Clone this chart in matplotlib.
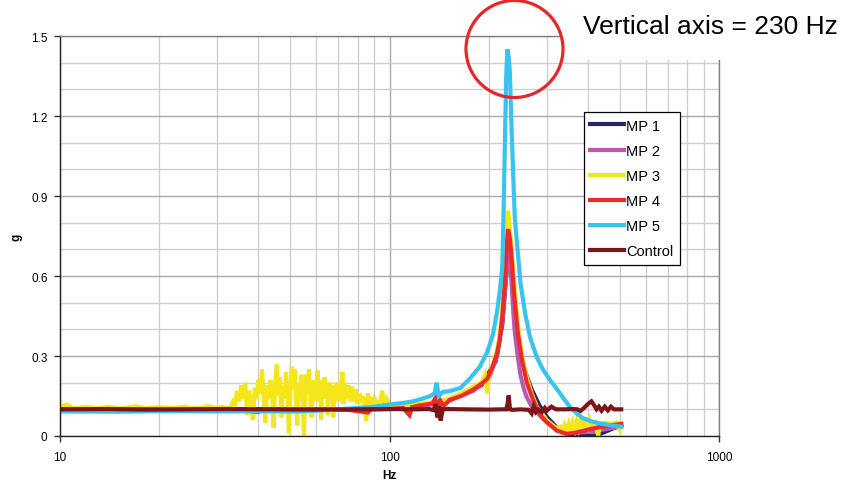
import matplotlib
matplotlib.use('Agg')
import matplotlib.pyplot as plt
from matplotlib.patches import Rectangle, Ellipse
from matplotlib.ticker import FixedLocator, NullFormatter

plt.rcParams['font.family'] = ['Liberation Sans', 'DejaVu Sans']

# values: (Hz, g)
mp1 = [(10, 0.100), (40, 0.100), (100, 0.101), (150, 0.130), (190, 0.190), (210, 0.280),
       (220, 0.420), (226, 0.600), (230, 0.700), (233, 0.660), (237, 0.550), (242, 0.420),
       (250, 0.300), (260, 0.230), (270, 0.175), (285, 0.115), (300, 0.072), (320, 0.035),
       (340, 0.012), (360, 0.003), (390, 0.000), (420, 0.002), (440, 0.010), (460, 0.020),
       (480, 0.030), (505, 0.040)]

mp2 = [(10, 0.100), (50, 0.100), (100, 0.102), (130, 0.115), (152, 0.135), (180, 0.170),
       (200, 0.215), (212, 0.300), (220, 0.430), (226, 0.600), (230, 0.700), (232, 0.680),
       (235, 0.560), (238, 0.450), (240, 0.390), (245, 0.300), (250, 0.225), (256, 0.175),
       (261, 0.145), (270, 0.112), (280, 0.088), (300, 0.052), (330, 0.022), (360, 0.012),
       (400, 0.015), (450, 0.025), (505, 0.035)]

mp3 = [(10, 0.112), (10.5, 0.118), (11, 0.104), (12, 0.108), (13, 0.104), (14, 0.110),
       (15, 0.104), (16, 0.106), (17, 0.112), (18, 0.104), (20, 0.108), (22, 0.105),
       (24, 0.110), (25, 0.104), (27, 0.106), (28, 0.112), (30, 0.105), (31, 0.110),
       (32, 0.104), (33, 0.110), (33.5, 0.130), (34, 0.120), (34.5, 0.170), (35, 0.130),
       (35.5, 0.190), (36, 0.140), (36.5, 0.200), (37, 0.080), (37.5, 0.170), (38, 0.120),
       (38.5, 0.060), (39, 0.180), (39.5, 0.140), (40, 0.210), (40.5, 0.160), (41, 0.250),
       (41.5, 0.150), (42, 0.050), (42.5, 0.190), (43, 0.140), (43.5, 0.210), (44, 0.170),
       (44.5, 0.030), (45, 0.200), (45.5, 0.270), (46, 0.150), (46.5, 0.220), (47, 0.070),
       (47.5, 0.190), (48, 0.140), (48.5, 0.240), (49, 0.170), (49.5, 0.010), (50, 0.160),
       (50.5, 0.260), (51, 0.180), (51.5, 0.250), (52, 0.140), (52.5, 0.040), (53, 0.200),
       (53.5, 0.150), (54, 0.230), (54.5, 0.130), (55, 0.000), (55.5, 0.170), (56, 0.230),
       (56.5, 0.160), (57, 0.250), (57.5, 0.140), (58, 0.070), (58.5, 0.210), (59, 0.150),
       (59.5, 0.200), (60, 0.130), (60.5, 0.245), (61, 0.150), (61.5, 0.210), (62, 0.060),
       (62.5, 0.190), (63, 0.140), (63.5, 0.220), (64, 0.160), (64.5, 0.200), (65, 0.080),
       (65.5, 0.180), (66, 0.200), (66.5, 0.140), (67, 0.190), (67.5, 0.070), (68, 0.170),
       (68.5, 0.130), (69, 0.200), (69.5, 0.140), (70, 0.180), (71, 0.130), (71.5, 0.210),
       (72, 0.240), (72.5, 0.120), (73, 0.200), (74, 0.140), (75, 0.190), (76, 0.130),
       (77, 0.185), (78, 0.130), (79, 0.175), (80, 0.120), (81, 0.160), (82, 0.125),
       (83, 0.150), (84, 0.120), (85, 0.056), (86, 0.160), (87, 0.120), (88, 0.145),
       (89, 0.115), (90, 0.140), (92, 0.120), (94, 0.135), (95, 0.170), (96, 0.120),
       (98, 0.140), (100, 0.115),
       (105, 0.110), (110, 0.112), (120, 0.118), (130, 0.124), (140, 0.130), (152, 0.140),
       (165, 0.160), (180, 0.185), (190, 0.200), (195, 0.230), (198, 0.160), (200, 0.220),
       (205, 0.260), (212, 0.320), (216, 0.380), (220, 0.480), (224, 0.620), (227, 0.800),
       (229, 0.845), (231, 0.800), (234, 0.720), (237, 0.630), (241, 0.520), (246, 0.400),
       (252, 0.300), (261, 0.220), (270, 0.160), (280, 0.110), (290, 0.085), (300, 0.060),
       (310, 0.045), (320, 0.030), (330, 0.035), (335, 0.010), (340, 0.040), (345, 0.020),
       (350, 0.045), (355, 0.015), (360, 0.050), (365, 0.025), (370, 0.055), (375, 0.030),
       (380, 0.060), (385, 0.035), (390, 0.050), (400, 0.030), (405, 0.060), (410, 0.040),
       (420, 0.050), (430, 0.000), (435, 0.045), (450, 0.050), (470, 0.045), (490, 0.050),
       (500, 0.025), (505, 0.050)]

mp4 = [(10, 0.100), (13, 0.098), (17, 0.100), (22, 0.099), (28, 0.100), (35, 0.098),
       (40, 0.090), (41, 0.100), (50, 0.099), (62, 0.100), (75, 0.098), (86, 0.088),
       (88, 0.100), (100, 0.102), (110, 0.105), (115, 0.078), (117, 0.108), (124, 0.115),
       (135, 0.122), (139, 0.150), (141, 0.068), (143, 0.130), (146, 0.112), (152, 0.135),
       (165, 0.150), (180, 0.175), (192, 0.200), (198, 0.215), (205, 0.255), (212, 0.310),
       (216, 0.360), (220, 0.450), (224, 0.580), (227, 0.720), (229, 0.776), (232, 0.740),
       (235, 0.660), (239, 0.530), (245, 0.390), (252, 0.290), (261, 0.200), (270, 0.150),
       (280, 0.100), (290, 0.072), (300, 0.052), (322, 0.020), (345, 0.008), (365, 0.012),
       (386, 0.019), (410, 0.027), (436, 0.034), (470, 0.040), (505, 0.045)]

mp5 = [(10, 0.092), (15, 0.091), (20, 0.093), (30, 0.092), (40, 0.093), (50, 0.092),
       (60, 0.095), (70, 0.100), (80, 0.105), (90, 0.110), (100, 0.118), (110, 0.124),
       (118, 0.130), (126, 0.140), (133, 0.150), (137, 0.160), (139, 0.200), (141, 0.150),
       (145, 0.165), (152, 0.168), (164, 0.180), (175, 0.214), (188, 0.260), (198, 0.315),
       (206, 0.380), (212, 0.465), (217, 0.560), (220, 0.640), (222, 0.850), (224, 1.100),
       (226, 1.350), (228, 1.450), (230, 1.420), (232, 1.360), (234, 1.200), (237, 1.000),
       (240, 0.820), (245, 0.690), (250, 0.570), (258, 0.460), (267, 0.370), (280, 0.295),
       (292, 0.250), (307, 0.210), (324, 0.172), (340, 0.135), (355, 0.105), (370, 0.085),
       (385, 0.068), (410, 0.055), (436, 0.047), (470, 0.040), (505, 0.035)]

control = [(10, 0.100), (14, 0.101), (18, 0.099), (25, 0.100), (33, 0.101), (45, 0.100),
           (60, 0.099), (80, 0.100), (100, 0.101), (120, 0.100), (132, 0.101), (136, 0.097),
           (138, 0.120), (140, 0.070), (141, 0.112), (143, 0.058), (145, 0.100), (150, 0.101),
           (170, 0.100), (200, 0.099), (220, 0.100), (226, 0.100), (228, 0.118), (230, 0.152),
           (232, 0.100), (236, 0.098), (250, 0.100), (265, 0.098), (270, 0.085), (274, 0.110),
           (278, 0.090), (283, 0.100), (290, 0.090), (296, 0.105), (300, 0.095), (310, 0.110),
           (320, 0.100), (340, 0.100), (360, 0.101), (372, 0.100), (380, 0.094), (390, 0.106),
           (400, 0.120), (410, 0.130), (418, 0.115), (425, 0.100), (432, 0.110), (440, 0.095),
           (450, 0.110), (460, 0.096), (470, 0.110), (480, 0.100), (505, 0.100)]

series = [('MP 1', mp1, '#25266f'),
          ('MP 2', mp2, '#b85ab0'),
          ('MP 3', mp3, '#f5e61c'),
          ('MP 4', mp4, '#ed2a2a'),
          ('MP 5', mp5, '#38c4ee'),
          ('Control', control, '#7d1518')]

fig = plt.figure(figsize=(8.46, 4.85), dpi=100)
ax = fig.add_axes([60 / 846, 48 / 485, 659 / 846, 400 / 485])

for name, pts, col in series:
    hz, g = zip(*pts)
    ax.plot(hz, g, color=col, lw=3.0, label=name, solid_joinstyle='miter')

ax.set_xscale('log')
ax.set_xlim(10, 1000)
ax.set_ylim(0, 1.5)

ax.xaxis.set_major_locator(FixedLocator([10, 100, 1000]))
ax.set_xticklabels(['10', '100', '1000'])
ax.xaxis.set_minor_locator(FixedLocator([20, 30, 40, 50, 60, 70, 80, 90,
                                         200, 300, 400, 500, 600, 700, 800, 900]))
ax.xaxis.set_minor_formatter(NullFormatter())
ax.set_yticks([0, 0.3, 0.6, 0.9, 1.2, 1.5])
ax.set_yticklabels(['0', '0.3', '0.6', '0.9', '1.2', '1.5'])
ax.set_yticks([0.1, 0.2, 0.4, 0.5, 0.7, 0.8, 1.0, 1.1, 1.3, 1.4], minor=True)

ax.tick_params(which='major', direction='out', length=4, width=1, labelsize=8.5,
               color='#333333', pad=5)
ax.tick_params(axis='x', which='major', pad=7)
ax.tick_params(which='minor', length=0)

ax.grid(which='major', color='#a8a8a8', lw=1.0)
ax.grid(which='minor', color='#cfcfcf', lw=1.0)
ax.set_axisbelow(True)

for s in ['left', 'bottom']:
    ax.spines[s].set_color('#222222')
    ax.spines[s].set_linewidth(1.0)
for s in ['top', 'right']:
    ax.spines[s].set_color('#808080')
    ax.spines[s].set_linewidth(1.0)

ax.set_xlabel('Hz', fontsize=8.5, fontweight='bold', labelpad=4)
ax.set_ylabel('g', fontsize=8.5, fontweight='bold', labelpad=6)

leg = ax.legend(loc='upper left', bbox_to_anchor=(0.795, 0.81), fontsize=10.5,
                frameon=True, fancybox=False, edgecolor='black', framealpha=1,
                borderpad=0.45, labelspacing=0.76, handlelength=2.3,
                handletextpad=0.15, borderaxespad=0)
leg.get_frame().set_linewidth(0.9)

# white block over the top right corner of the plot area
fig.add_artist(Rectangle((562 / 846, (485 - 61) / 485), 1, 1, transform=fig.transFigure,
                         facecolor='white', edgecolor='none', zorder=5))

fig.add_artist(Ellipse((514.5 / 846, 1 - 50 / 485), 97 / 846, 97 / 485,
                       transform=fig.transFigure, fill=False, edgecolor='#e8262a',
                       lw=2.3, zorder=6))

fig.text(583 / 846, 1 - 27 / 485, 'Vertical axis = 230 Hz', fontsize=19,
         ha='left', va='center', zorder=7)

fig.savefig('out.png', dpi=100)
